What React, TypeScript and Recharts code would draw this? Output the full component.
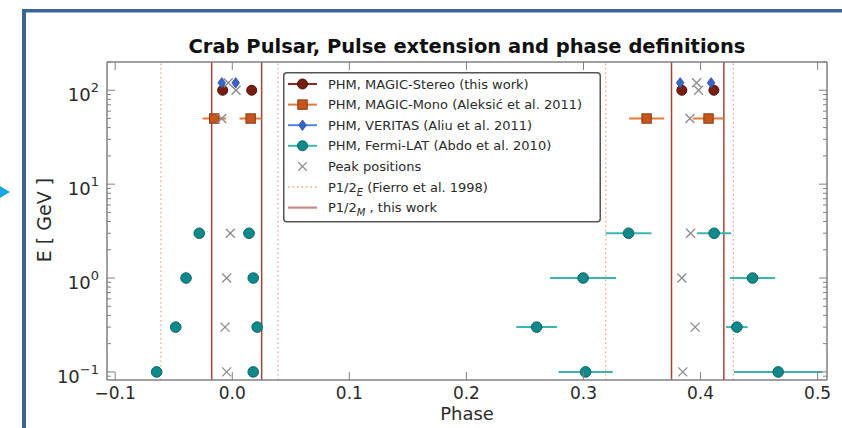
import React from 'react';
import { ComposedChart, Scatter, XAxis, YAxis, ErrorBar, ReferenceLine, Legend, Label } from 'recharts';

// Phase of half maximum (PHM) for each instrument, P1 and P2 edges
const stereoPhase = [-0.0082, 0.0166, 0.384, 0.4114];
const stereoErr = [0.002, 0.002, 0.002, 0.002];
const stereoEnergy = 100;

const monoPhase = [-0.0154, 0.0157, 0.3539, 0.4068];
const monoErr = [0.01, 0.0095, 0.015, 0.0135];
const monoEnergy = 50;

const veritasPhase = [-0.009, 0.0029, 0.3826, 0.409];
const veritasErr = [0.002, 0.002, 0.002, 0.002];
const veritasEnergy = 120;

// Fermi-LAT, one row per energy bin
const fermiEnergy = [0.1, 0.3, 1, 3];
const fermiP1Lead = [-0.0646, -0.0483, -0.0395, -0.0282];
const fermiP1Trail = [0.0179, 0.0213, 0.0179, 0.0143];
const fermiP2Lead = [0.3018, 0.26, 0.2997, 0.3385];
const fermiP2Trail = [0.4663, 0.431, 0.4444, 0.4116];
const fermiP1LeadErr = [0.002, 0.002, 0.002, 0.004];
const fermiP1TrailErr = [0.002, 0.002, 0.002, 0.005];
const fermiP2LeadErr = [0.0232, 0.0174, 0.0282, 0.0196];
const fermiP2TrailErr = [0.0377, 0.0092, 0.0193, 0.0146];

// peak positions
const peakEnergy = [120, 100, 50, 3, 1, 0.3, 0.1];
const peakP1 = [-0.0034, 0.0032, -0.009, -0.0017, -0.0048, -0.0062, -0.0048];
const peakP2 = [0.3966, 0.3983, 0.3909, 0.3915, 0.384, 0.3954, 0.3848];

// pulse definitions
const fierroEdges = [-0.061, 0.039, 0.319, 0.428];
const magicEdges = [-0.0176, 0.0251, 0.3752, 0.4199];

const phaseTicks = [-0.1, 0, 0.1, 0.2, 0.3, 0.4, 0.5];
const energyTicks = [
  0.09, 0.1, 0.2, 0.3, 0.4, 0.5, 0.6, 0.7, 0.8, 0.9,
  1, 2, 3, 4, 5, 6, 7, 8, 9,
  10, 20, 30, 40, 50, 60, 70, 80, 90,
  100, 200,
];

const FONT = '"DejaVu Sans", sans-serif';
const FRAME = '#808080';
const TEXT = '#2a2a2a';

const STEREO = '#7a1c12';
const MONO = '#c8561c';
const MONO_LINE = '#e07a3c';
const VERITAS = '#3a62cc';
const VERITAS_LINE = '#5a80e0';
const FERMI = '#0f8a8a';
const FERMI_LINE = '#3cb4ae';
const PEAK = '#8c8c8c';
const FIERRO = '#f0a07c';
const MAGIC_EDGE = '#a5433b';

const rows = (phase: number[], err: number[], energy: number) =>
  phase.map((p, i) => ({ phase: p, energy, err: err[i] }));

const stereoData = rows(stereoPhase, stereoErr, stereoEnergy);
const monoData = rows(monoPhase, monoErr, monoEnergy);
const veritasData = rows(veritasPhase, veritasErr, veritasEnergy);
const fermiData = fermiEnergy.flatMap((e, i) => [
  { phase: fermiP1Lead[i], energy: e, err: fermiP1LeadErr[i] },
  { phase: fermiP1Trail[i], energy: e, err: fermiP1TrailErr[i] },
  { phase: fermiP2Lead[i], energy: e, err: fermiP2LeadErr[i] },
  { phase: fermiP2Trail[i], energy: e, err: fermiP2TrailErr[i] },
]);
const peakData = peakEnergy.flatMap((e, i) => [
  { phase: peakP1[i], energy: e },
  { phase: peakP2[i], energy: e },
]);

const isDecade = (v: number) => Math.abs(Math.log10(v) - Math.round(Math.log10(v))) < 1e-9;

// markers
const circle = (fill: string, edge: string, r: number) => (p: any) =>
  <circle cx={p.cx} cy={p.cy} r={r} fill={fill} stroke={edge} strokeWidth={1} />;

const square = (fill: string, edge: string, h: number) => (p: any) =>
  <rect x={p.cx - h} y={p.cy - h} width={2 * h} height={2 * h} fill={fill} stroke={edge} strokeWidth={1} />;

const diamond = (fill: string, w: number, h: number) => (p: any) =>
  <polygon points={`${p.cx},${p.cy - h} ${p.cx + w},${p.cy} ${p.cx},${p.cy + h} ${p.cx - w},${p.cy}`} fill={fill} stroke="#2a4aa8" strokeWidth={0.8} />;

const cross = (color: string, h: number) => (p: any) => (
  <g stroke={color} strokeWidth={1.3}>
    <line x1={p.cx - h} y1={p.cy - h} x2={p.cx + h} y2={p.cy + h} />
    <line x1={p.cx - h} y1={p.cy + h} x2={p.cx + h} y2={p.cy - h} />
  </g>
);

// ticks point inwards on all four sides
const fmtPhase = (v: number) => (v < 0 ? `\u2212${Math.abs(v).toFixed(1)}` : v.toFixed(1));

const PhaseTick = (p: any) => (
  <g>
    <line x1={p.x} x2={p.x} y1={p.y} y2={p.y - 8} stroke={FRAME} />
    <text x={p.x} y={p.y + 19} textAnchor="middle" fontSize={17} fill={TEXT} fontFamily={FONT}>
      {fmtPhase(p.payload.value)}
    </text>
  </g>
);

const TopTick = (p: any) => <line x1={p.x} x2={p.x} y1={p.y} y2={p.y + 8} stroke={FRAME} />;

const EnergyTick = (p: any) => {
  const v = p.payload.value;
  const major = isDecade(v);
  const exp = Math.round(Math.log10(v));
  return (
    <g>
      <line x1={p.x} x2={p.x + (major ? 8 : 4)} y1={p.y} y2={p.y} stroke={FRAME} />
      {major && (
        <text x={p.x - 8} y={p.y + 11} textAnchor="end" fontSize={18} fill={TEXT} fontFamily={FONT}>
          10
          <tspan dy={-9} fontSize={13}>{exp < 0 ? `\u2212${-exp}` : exp}</tspan>
        </text>
      )}
    </g>
  );
};

const RightTick = (p: any) => {
  const major = isDecade(p.payload.value);
  return <line x1={p.x} x2={p.x - (major ? 8 : 4)} y1={p.y} y2={p.y} stroke={FRAME} />;
};

const PhaseLabel = (p: any) => {
  const vb = p.viewBox;
  return (
    <text x={vb.x + vb.width / 2} y={vb.y + 40} textAnchor="middle" fontSize={18} fill={TEXT} fontFamily={FONT}>
      Phase
    </text>
  );
};

const EnergyLabel = () => {
  const cy = 220;
  return (
    <text x={44} y={cy} transform={`rotate(-90 44 ${cy})`} textAnchor="middle" dominantBaseline="central"
      fontSize={19} fill={TEXT} fontFamily={FONT}>
      E [ GeV ]
    </text>
  );
};

const legendRows = [
  { kind: 'stereo', text: 'PHM, MAGIC-Stereo (this work)' },
  { kind: 'mono', text: 'PHM, MAGIC-Mono (Aleksić et al. 2011)' },
  { kind: 'veritas', text: 'PHM, VERITAS (Aliu et al. 2011)' },
  { kind: 'fermi', text: 'PHM, Fermi-LAT (Abdo et al. 2010)' },
  { kind: 'peak', text: 'Peak positions' },
  { kind: 'fierro', text: '' },
  { kind: 'magic', text: '' },
];

const LegendBox = () => (
  <svg width={318} height={151} style={{ display: 'block' }}>
    <rect x={0.75} y={0.75} width={316.5} height={149} rx={3} fill="#fff" stroke="#555" strokeWidth={1.5} />
    {legendRows.map((r, i) => {
      const y = 12 + i * 20.6;
      const mx = 19.5;
      let sample: React.ReactNode = null;
      if (r.kind === 'stereo')
        sample = <g><line x1={5} x2={34} y1={y} y2={y} stroke="#8c2a20" strokeWidth={2} />{circle(STEREO, '#4a0e08', 5)({ cx: mx, cy: y })}</g>;
      if (r.kind === 'mono')
        sample = <g><line x1={5} x2={34} y1={y} y2={y} stroke={MONO_LINE} strokeWidth={2} />{square(MONO, '#8a3a10', 4.7)({ cx: mx, cy: y })}</g>;
      if (r.kind === 'veritas')
        sample = <g><line x1={5} x2={34} y1={y} y2={y} stroke={VERITAS_LINE} strokeWidth={2} />{diamond(VERITAS, 3.8, 5.2)({ cx: mx, cy: y })}</g>;
      if (r.kind === 'fermi')
        sample = <g><line x1={5} x2={34} y1={y} y2={y} stroke={FERMI_LINE} strokeWidth={2} />{circle(FERMI, '#0a6565', 5)({ cx: mx, cy: y })}</g>;
      if (r.kind === 'peak') sample = cross(PEAK, 4.3)({ cx: mx, cy: y });
      if (r.kind === 'fierro')
        sample = <line x1={5} x2={34} y1={y} y2={y} stroke={FIERRO} strokeWidth={1.5} strokeDasharray="1.5 3" />;
      if (r.kind === 'magic')
        sample = <line x1={5} x2={34} y1={y} y2={y} stroke="#c48c88" strokeWidth={2.2} />;
      return (
        <g key={i}>
          {sample}
          <text x={45} y={y + 4.5} fontSize={13} fill={TEXT} fontFamily={FONT}>
            {r.kind === 'fierro' ? (
              <>P1/2<tspan dy={4} fontSize={10} fontStyle="italic">E</tspan><tspan dy={-4}>{'  (Fierro et al. 1998)'}</tspan></>
            ) : r.kind === 'magic' ? (
              <>P1/2<tspan dy={4} fontSize={10} fontStyle="italic">M</tspan><tspan dy={-4}>{' , this work'}</tspan></>
            ) : (
              r.text
            )}
          </text>
        </g>
      );
    })}
  </svg>
);

export default function App() {
  return (
    <div style={{ position: 'absolute', left: 0, top: 0, width: 842, height: 428, background: '#fff', overflow: 'hidden' }}>
      <svg width={842} height={428} style={{ position: 'absolute', left: 0, top: 0 }}>
        <rect x={22} y={9} width={820} height={3.5} fill="#3a6596" />
        <rect x={22} y={9} width={4} height={419} fill="#3a6596" />
        <polygon points="0,186 10,192 0,198" fill="#19a5e6" />
        <text x={467} y={53} textAnchor="middle" fontSize={19.5} fontWeight="bold" fill="#111" fontFamily={FONT}>
          Crab Pulsar, Pulse extension and phase definitions
        </text>
      </svg>
      <div style={{ position: 'absolute', left: 0, top: 0 }}>
        <ComposedChart width={842} height={428} margin={{ top: 0, right: 0, bottom: 0, left: 0 }}>
          <XAxis xAxisId="x" dataKey="phase" type="number" domain={[-0.107, 0.508]} ticks={phaseTicks}
            allowDataOverflow interval={0} height={48} tickSize={0} tickMargin={0} tickLine={false}
            tick={(p: any) => <PhaseTick {...p} />} axisLine={{ stroke: FRAME, strokeWidth: 1.5 }}>
            <Label content={PhaseLabel} />
          </XAxis>
          <XAxis xAxisId="top" orientation="top" dataKey="phase" type="number" domain={[-0.107, 0.508]}
            ticks={phaseTicks} allowDataOverflow interval={0} height={62} tickSize={0} tickMargin={0}
            tickLine={false} tick={(p: any) => <TopTick {...p} />} axisLine={{ stroke: FRAME, strokeWidth: 1.5 }} />
          <YAxis yAxisId="y" dataKey="energy" type="number" scale="log" domain={[0.082, 200]} ticks={energyTicks}
            allowDataOverflow interval={0} width={107} tickSize={0} tickMargin={0} tickLine={false}
            tick={(p: any) => <EnergyTick {...p} />} axisLine={{ stroke: FRAME, strokeWidth: 1.5 }}>
            <Label content={EnergyLabel} />
          </YAxis>
          <YAxis yAxisId="right" orientation="right" dataKey="energy" type="number" scale="log" domain={[0.082, 200]}
            ticks={energyTicks} allowDataOverflow interval={0} width={15} tickSize={0} tickMargin={0}
            tickLine={false} tick={(p: any) => <RightTick {...p} />} axisLine={{ stroke: FRAME, strokeWidth: 1.5 }} />

          {fierroEdges.map((v) => (
            <ReferenceLine key={`f${v}`} xAxisId="x" yAxisId="y" x={v} stroke={FIERRO} strokeWidth={1.2} strokeDasharray="1.5 3" />
          ))}
          {magicEdges.map((v) => (
            <ReferenceLine key={`m${v}`} xAxisId="x" yAxisId="y" x={v} stroke={MAGIC_EDGE} strokeWidth={1.5} />
          ))}

          <Scatter name="Fermi-LAT" xAxisId="x" yAxisId="y" data={fermiData} shape={circle(FERMI, '#0a6565', 5.3)} isAnimationActive={false}>
            <ErrorBar dataKey="err" direction="x" width={0} stroke={FERMI_LINE} strokeWidth={2} isAnimationActive={false} />
          </Scatter>
          <Scatter name="MAGIC-Mono" xAxisId="x" yAxisId="y" data={monoData} shape={square(MONO, '#8a3a10', 4.7)} isAnimationActive={false}>
            <ErrorBar dataKey="err" direction="x" width={0} stroke={MONO_LINE} strokeWidth={2} isAnimationActive={false} />
          </Scatter>
          <Scatter name="MAGIC-Stereo" xAxisId="x" yAxisId="y" data={stereoData} shape={circle(STEREO, '#4a0e08', 5)} isAnimationActive={false}>
            <ErrorBar dataKey="err" direction="x" width={0} stroke="#8c2a20" strokeWidth={2} isAnimationActive={false} />
          </Scatter>
          <Scatter name="VERITAS" xAxisId="x" yAxisId="y" data={veritasData} shape={diamond(VERITAS, 3.8, 5.2)} isAnimationActive={false}>
            <ErrorBar dataKey="err" direction="x" width={0} stroke={VERITAS_LINE} strokeWidth={2} isAnimationActive={false} />
          </Scatter>
          <Scatter name="Peak positions" xAxisId="x" yAxisId="y" data={peakData} shape={cross(PEAK, 4.5)} isAnimationActive={false} />

          <Legend layout="vertical" align="center" verticalAlign="middle" content={() => <LegendBox />}
            wrapperStyle={{ left: 283, top: 72, width: 318, height: 151 }} />
        </ComposedChart>
      </div>
    </div>
  );
}
